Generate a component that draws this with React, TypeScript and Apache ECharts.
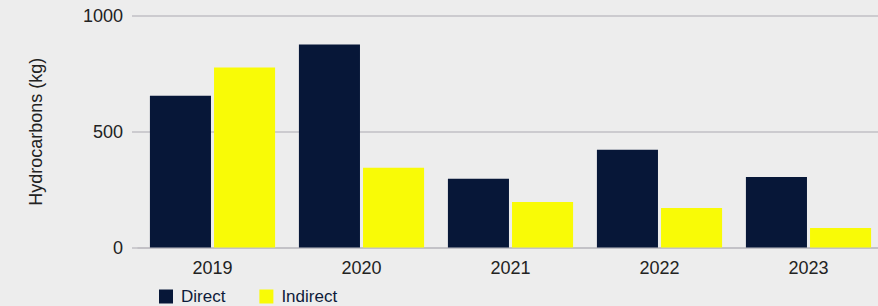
import React, { useEffect, useRef } from "react";
import * as echarts from "echarts";

const categories = ["2019", "2020", "2021", "2022", "2023"];
const directValues = [656, 877, 297, 422, 305];
const indirectValues = [777, 344, 197, 171, 84];
const yTicks = [0, 500, 1000];

export default function App() {
  const ref = useRef<HTMLDivElement>(null);
  useEffect(() => {
    if (!ref.current) return;
    const chart = echarts.init(ref.current, null, { renderer: "svg" });
    const font = "'Liberation Sans', Arial, Helvetica, sans-serif";
    chart.setOption({
      animation: false,
      backgroundColor: "#ededed",
      textStyle: { fontFamily: font },
      grid: {
        left: 138,
        width: 745,
        top: 16,
        height: 231.5,
        containLabel: false,
        outerBoundsMode: "none",
      },
      legend: {
        left: 159,
        top: 288,
        padding: 0,
        itemWidth: 14,
        itemHeight: 14,
        itemGap: 34,
        icon: "rect",
        textStyle: { fontSize: 17, lineHeight: 15, color: "#0d1b3a", fontFamily: font, padding: [0, 0, 0, 3] },
        data: ["Direct", "Indirect"],
      },
      xAxis: {
        type: "category",
        data: categories,
        axisLine: { lineStyle: { color: "#c0bfc4", width: 1.5 } },
        axisTick: { show: false },
        axisLabel: { fontSize: 18, color: "#222", margin: 11, fontFamily: font },
      },
      yAxis: {
        type: "value",
        min: yTicks[0],
        max: yTicks[yTicks.length - 1],
        interval: 500,
        name: "Hydrocarbons (kg)",
        nameLocation: "middle",
        nameRotate: 90,
        nameGap: 93,
        nameTextStyle: { fontSize: 18, color: "#222", fontFamily: font },
        axisLine: { show: false },
        axisTick: { show: true, length: 6, lineStyle: { color: "#c0bfc4", width: 1.5 } },
        splitLine: { lineStyle: { color: "#c0bfc4", width: 1.5 } },
        axisLabel: {
          fontSize: 18,
          color: "#222",
          margin: 15,
          fontFamily: font,
          formatter: (v: number) => String(v),
        },
      },
      series: [
        {
          name: "Direct",
          type: "bar",
          data: directValues,
          itemStyle: { color: "#071738" },
          barGap: "5%",
          barCategoryGap: "16%",
        },
        {
          name: "Indirect",
          type: "bar",
          data: indirectValues,
          itemStyle: { color: "#f9fb06" },
        },
      ],
    });
    return () => chart.dispose();
  }, []);
  return <div ref={ref} style={{ width: 878, height: 306, position: "absolute", left: 0, top: 0 }} />;
}
